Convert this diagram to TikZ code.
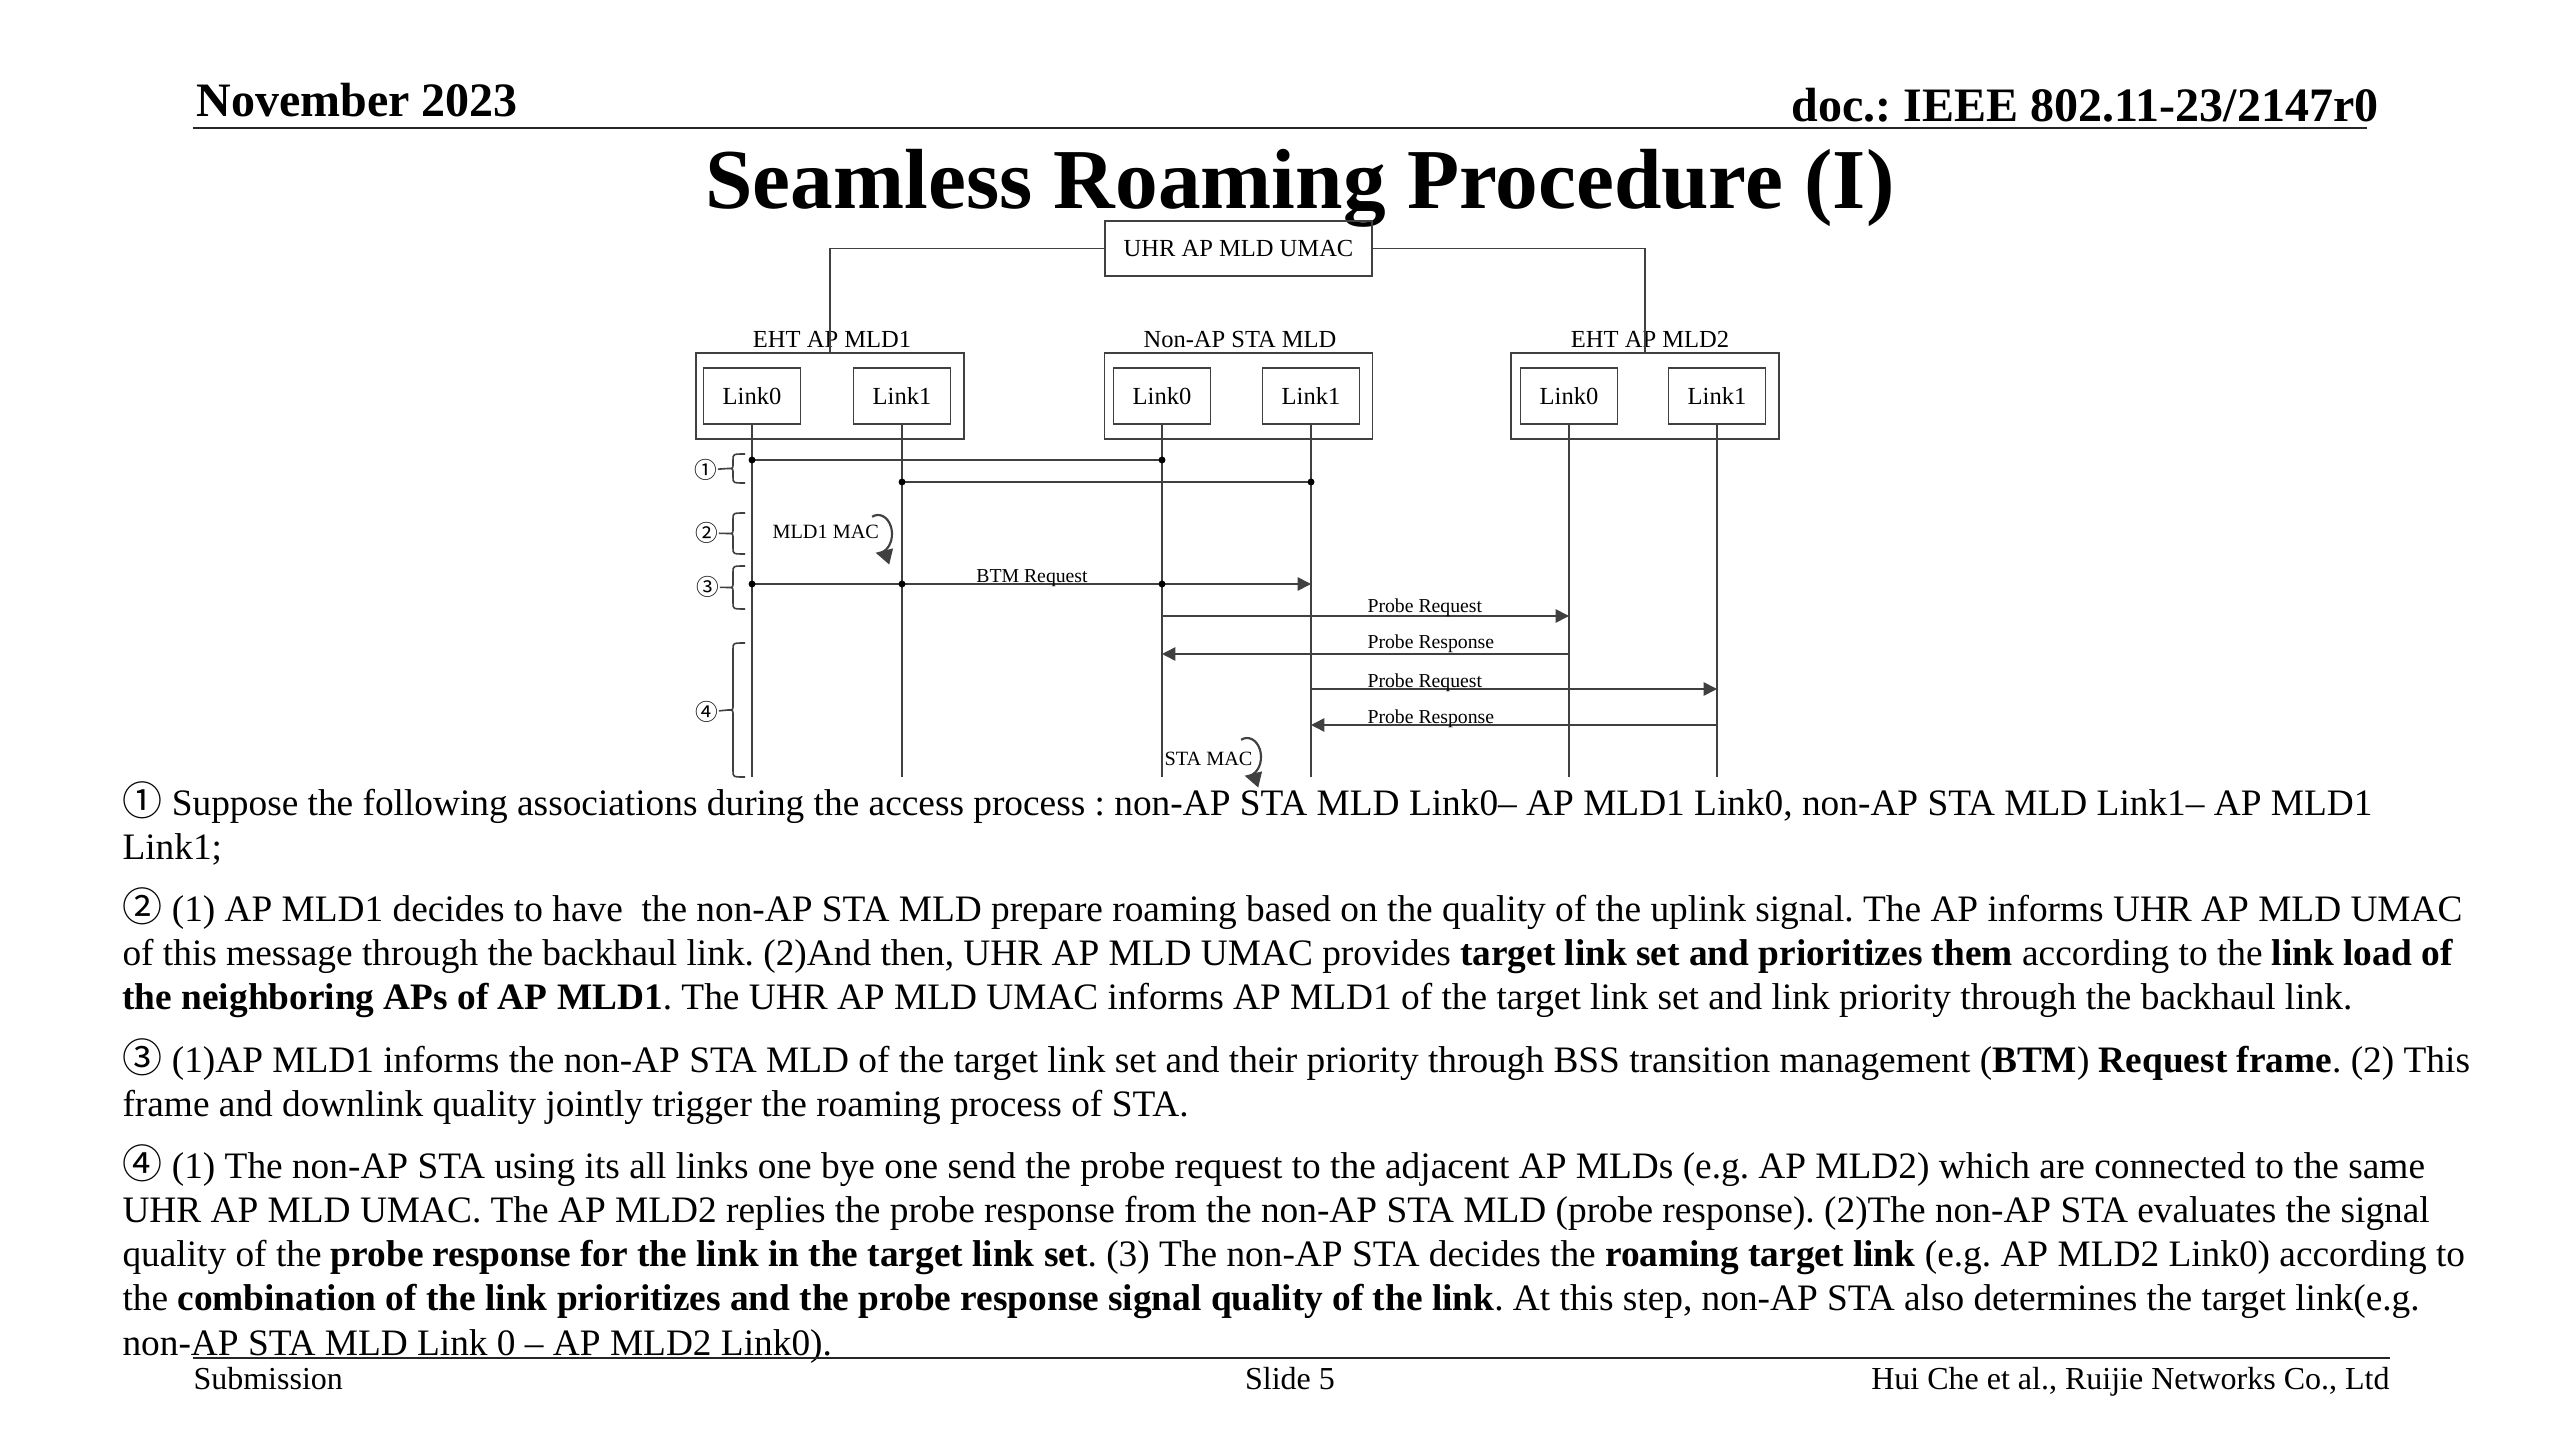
\documentclass[tikz,border=0pt]{standalone}
\usepackage{fontspec}
\setmainfont{Liberation Serif}
\newfontfamily\cjk{Noto Sans CJK SC}
\usetikzlibrary{arrows.meta}
\frenchspacing
\newcommand\cnum[1]{{\cjk\fontsize{15}{16}\selectfont #1}}
\newcommand\mybrace[4]{% #1 xtip, #2 ytop, #3 ybottom, #4 name
  \coordinate (#4) at (#1,{(#2+#3)/2});
  \draw[dline] ({#1+17},#2) .. controls ({#1+5},#2) .. ({#1+5},{#2+6})
    -- ({#1+5},{(#2+#3)/2-5}) .. controls ({#1+5},{(#2+#3)/2}) .. (#4)
    .. controls ({#1+5},{(#2+#3)/2}) .. ({#1+5},{(#2+#3)/2+5})
    -- ({#1+5},{#3-6}) .. controls ({#1+5},#3) .. ({#1+17},#3);}
\tikzset{
  dline/.style={draw=black!75, line width=0.6pt},
  linkbox/.style={dline, minimum width=36.5pt, minimum height=21pt, inner sep=0pt, font=\fontsize{9.2}{10}\selectfont},
  outerbox/.style={dline, minimum width=100.5pt, minimum height=32.25pt, inner sep=0pt},
  umacbox/.style={dline, minimum width=100.1pt, minimum height=20.6pt, inner sep=0pt, font=\fontsize{9.2}{10}\selectfont},
  grplabel/.style={anchor=base, inner sep=0pt, font=\fontsize{9.2}{10}\selectfont},
  msglabel/.style={inner sep=0pt, font=\fontsize{7.4}{8}\selectfont},
  arr/.style={dline, -{Triangle[length=5pt,width=5pt]}},
  macarc/.style={dline, line width=0.8pt, -{Triangle[length=6pt,width=6pt]}},
  dotpt/.style={circle, fill=black, inner sep=0pt, minimum size=2.6pt},
  stepnum/.style={inner sep=0pt, font=\cjk\fontsize{8.5}{10}\selectfont},
  bodyline/.style={anchor=base west, inner sep=0pt, font=\fontsize{14}{16.6}\selectfont},
  hdr/.style={inner sep=0pt, font=\bfseries\fontsize{18}{20}\selectfont},
  ftr/.style={inner sep=0pt, font=\fontsize{12}{14}\selectfont},
  rule/.style={draw=black!85, line width=1pt}
}
\begin{document}
\begin{tikzpicture}[x=0.375pt,y=-0.375pt]
\useasboundingbox (0,0) rectangle (2560,1440);
\fill[white] (0,0) rectangle (2560,1440);

% header
\node[hdr, anchor=base west] (date) at (196,117) {November 2023};
\node[hdr, anchor=base east] (doc) at (2379,122) {doc.: IEEE 802.11-23/2147r0};
\coordinate (hl) at (193,128); \coordinate (hr) at (2367,128);
\draw[rule] (hl) -- (hr);
\node[anchor=base, inner sep=0pt, font=\bfseries\fontsize{32}{36}\selectfont] (title) at (1300,209) {Seamless Roaming Procedure (I)};

% diagram boxes
\node[umacbox] (umac) at (1238.5,248.5) {UHR AP MLD UMAC};
\node[outerbox] (mld1) at (830,396) {};
\node[outerbox] (sta) at (1238.5,396) {};
\node[outerbox] (mld2) at (1645,396) {};
\node[linkbox] (a0) at (752,396) {Link0};
\node[linkbox] (a1) at (902,396) {Link1};
\node[linkbox] (s0) at (1162,396) {Link0};
\node[linkbox] (s1) at (1311,396) {Link1};
\node[linkbox] (b0) at (1569,396) {Link0};
\node[linkbox] (b1) at (1717,396) {Link1};
\node[grplabel] (lmld1) at (832,348) {EHT AP MLD1};
\node[grplabel] (lsta) at (1240,348) {Non-AP STA MLD};
\node[grplabel] (lmld2) at (1650,348) {EHT AP MLD2};
\draw[dline] (umac.west) -| (mld1.north);
\draw[dline] (umac.east) -| (mld2.north);

% lifelines
\foreach \n in {a0,a1,s0,s1,b0,b1}{
  \draw[dline] (\n.south) -- (\n.south |- 0,777);
}

% step 1
\draw[dline] (a0 |- 0,460) -- (s0 |- 0,460);
\node[dotpt] (d1a) at (a0 |- 0,460) {};
\node[dotpt] (d1b) at (s0 |- 0,460) {};
\draw[dline] (a1 |- 0,482) -- (s1 |- 0,482);
\node[dotpt] (d2a) at (a1 |- 0,482) {};
\node[dotpt] (d2b) at (s1 |- 0,482) {};

% step 2
\node[msglabel, anchor=base west, font=\fontsize{7.6}{8}\selectfont] (mldmac) at (772,539) {MLD1 MAC};
\draw[macarc] ([shift={(-115:14 and 19)}]878,534) arc[start angle=-115, end angle=100, x radius=14, y radius=19];

% step 3
\draw[arr] (a0 |- 0,584) -- (s1 |- 0,584);
\node[dotpt] (d3a) at (a0 |- 0,584) {};
\node[dotpt] (d3b) at (a1 |- 0,584) {};
\node[dotpt] (d3c) at (s0 |- 0,584) {};
\node[msglabel, anchor=base] (lbtm) at (1032,582) {BTM Request};

% step 4
\draw[arr] (s0 |- 0,616) -- (b0 |- 0,616);
\draw[arr] (b0 |- 0,654) -- (s0 |- 0,654);
\draw[arr] (s1 |- 0,689) -- (b1 |- 0,689);
\draw[arr] (b1 |- 0,725) -- (s1 |- 0,725);
\node[msglabel, anchor=base west] (lpq1) at (1367,612) {Probe Request};
\node[msglabel, anchor=base west] (lpr1) at (1367,648) {Probe Response};
\node[msglabel, anchor=base west] (lpq2) at (1367,687) {Probe Request};
\node[msglabel, anchor=base west] (lpr2) at (1367,723) {Probe Response};
\node[msglabel, anchor=base west, font=\fontsize{7.6}{8}\selectfont] (stamac) at (1164,765) {STA MAC};
\draw[macarc] ([shift={(-115:14 and 19)}]1247,757) arc[start angle=-115, end angle=100, x radius=14, y radius=19];

% step markers
\node[stepnum] (c1) at (706,470) {①};
\node[stepnum] (c2) at (707,533) {②};
\node[stepnum] (c3) at (708,587) {③};
\node[stepnum] (c4) at (707,712) {④};
\mybrace{728}{454}{483}{t1}
\mybrace{728}{513}{554}{t2}
\mybrace{728}{566}{609}{t3}
\mybrace{728}{643}{777}{t4}
\draw[dline] (c1) -- (t1);
\draw[dline] (c2) -- (t2);
\draw[dline] (c3) -- (t3);
\draw[dline] (c4) -- (t4);

% body text
\node[bodyline] (p1a) at (122,815) {\cnum{①} Suppose the following associations during the access process : non-AP STA MLD Link0– AP MLD1 Link0, non-AP STA MLD Link1– AP MLD1};
\node[bodyline] (p1b) at (122,859.3) {Link1;};
\node[bodyline] (p2a) at (122,921) {\cnum{②} (1) AP MLD1 decides to have\ \ the non-AP STA MLD prepare roaming based on the quality of the uplink signal. The AP informs UHR AP MLD UMAC};
\node[bodyline] (p2b) at (122,965.3) {of this message through the backhaul link. (2)And then, UHR AP MLD UMAC provides \textbf{target link set and prioritizes them} according to the \textbf{link load of}};
\node[bodyline] (p2c) at (122,1009.6) {\textbf{the neighboring APs of AP MLD1}. The UHR AP MLD UMAC informs AP MLD1 of the target link set and link priority through the backhaul link.};
\node[bodyline] (p3a) at (122,1072) {\cnum{③} (1)AP MLD1 informs the non-AP STA MLD of the target link set and their priority through BSS transition management (\textbf{BTM}) \textbf{Request frame}. (2) This};
\node[bodyline] (p3b) at (122,1116.3) {frame and downlink quality jointly trigger the roaming process of STA.};
\node[bodyline] (p4a) at (122,1178) {\cnum{④} (1) The non-AP STA using its all links one bye one send the probe request to the adjacent AP MLDs (e.g. AP MLD2) which are connected to the same};
\node[bodyline] (p4b) at (122,1222.3) {UHR AP MLD UMAC. The AP MLD2 replies the probe response from the non-AP STA MLD (probe response). (2)The non-AP STA evaluates the signal};
\node[bodyline] (p4c) at (122,1266.6) {quality of the \textbf{probe response for the link in the target link set}. (3) The non-AP STA decides the \textbf{roaming target link} (e.g. AP MLD2 Link0) according to};
\node[bodyline] (p4d) at (122,1310.9) {the \textbf{combination of the link prioritizes and the probe response signal quality of the link}. At this step, non-AP STA also determines the target link(e.g.};
\node[bodyline] (p4e) at (122,1355.2) {non-AP STA MLD Link 0 – AP MLD2 Link0).};

% footer
\coordinate (fl) at (193,1358); \coordinate (fr) at (2390,1358);
\draw[rule] (fl) -- (fr);
\node[ftr, anchor=base west] (sub) at (193,1389) {Submission};
\node[ftr, anchor=base] (slide) at (1290,1389) {Slide 5};
\node[ftr, anchor=base east] (auth) at (2390,1389) {Hui Che et al., Ruijie Networks Co., Ltd};
\end{tikzpicture}
\end{document}
